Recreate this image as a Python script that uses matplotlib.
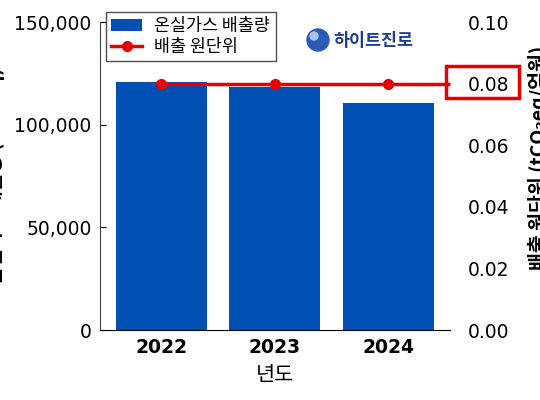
import matplotlib.pyplot as plt
from matplotlib.patches import Rectangle, Ellipse
from matplotlib.ticker import FuncFormatter

plt.rcParams['font.family'] = ['Noto Sans CJK KR', 'DejaVu Sans']

# 데이터
years = ['2022', '2023', '2024']
emissions = [121000, 118300, 110500]
unit = [0.08, 0.08, 0.08]

bar_color = '#0050B4'
line_color = '#E60000'

fig = plt.figure(figsize=(5.4, 4), dpi=100)
ax = fig.add_axes([0.185, 0.175, 0.648, 0.77])
ax2 = ax.twinx()

x = list(range(len(years)))
bars = ax.bar(x, emissions, width=0.8, color=bar_color, label='온실가스 배출량', zorder=2)
xlim = ax.get_xlim()
ax.set_ylim(0, 150000)
ax.set_yticks([0, 50000, 100000, 150000])
ax.yaxis.set_major_formatter(FuncFormatter(lambda v, p: f'{int(v):,}'))
ax.set_xticks(x)
ax.set_xticklabels(years, fontsize=13.5, fontweight='bold', family='DejaVu Sans')
for lab in ax.get_yticklabels():
    lab.set_family('DejaVu Sans')
    lab.set_fontsize(13.5)
ax.tick_params(axis='x', direction='in', length=4, pad=6)
ax.tick_params(axis='y', direction='in', length=4, pad=6)
ax.set_xlabel('년도', fontsize=15, fontweight='medium', labelpad=5)
ax.set_ylabel('온실가스 배출량 (tCO₂eq)', fontsize=14, fontweight='bold')
ax.yaxis.set_label_coords(-0.271, 0.5)
for s in ['top', 'right']:
    ax.spines[s].set_visible(False)
ax.spines['left'].set_color('#444444')

# 배출 원단위
line, = ax2.plot(x, unit, color=line_color, lw=2.5, marker='o', markersize=7,
                 label='배출 원단위', zorder=3)
ax2.hlines(unit[-1], x[-1], xlim[1], color=line_color, lw=2.5, clip_on=False)
ax.set_xlim(xlim)
ax2.set_ylim(0, 0.10)
ax2.set_yticks([0, 0.02, 0.04, 0.06, 0.08, 0.10])
ax2.yaxis.set_major_formatter(FuncFormatter(lambda v, p: f'{v:.2f}'))
for lab in ax2.get_yticklabels():
    lab.set_family('DejaVu Sans')
    lab.set_fontsize(13.5)
ax2.tick_params(axis='y', length=0, pad=13)
ax2.set_ylabel('배출 원단위 (tCO₂eq/억원)', fontsize=14, fontweight='bold')
ax2.yaxis.set_label_coords(1.223, 0.56)
for s in ['top', 'right', 'left', 'bottom']:
    ax2.spines[s].set_visible(False)

# 0.08 강조 박스
fig.add_artist(Rectangle((446 / 540, 1 - 98 / 400), 73 / 540, 32 / 400,
                         transform=fig.transFigure, fill=False,
                         edgecolor=line_color, lw=2.5))

leg = ax.legend([bars, line], ['온실가스 배출량', '배출 원단위'], loc='upper left',
                bbox_to_anchor=(0.017, 1.032), borderaxespad=0,
                prop={'size': 12.5, 'weight': 'medium'}, frameon=True, fancybox=False,
                edgecolor='#222222', handlelength=1.8, borderpad=0.3, labelspacing=0.15,
                handletextpad=0.7)
leg.get_frame().set_linewidth(1.0)

# 로고
fig.add_artist(Ellipse((318 / 540, 1 - 40 / 400), 22 / 540, 22 / 400,
                       transform=fig.transFigure, color='#2A5BB5'))
fig.add_artist(Ellipse((314 / 540, 1 - 36 / 400), 8 / 540, 8 / 400,
                       transform=fig.transFigure, color='#A8C4EC'))
fig.text(333 / 540, 1 - 41 / 400, '하이트진로', fontsize=12.5, fontweight='bold',
         color='#1E3E96', va='center', ha='left')

fig.savefig('out.png', dpi=100)
